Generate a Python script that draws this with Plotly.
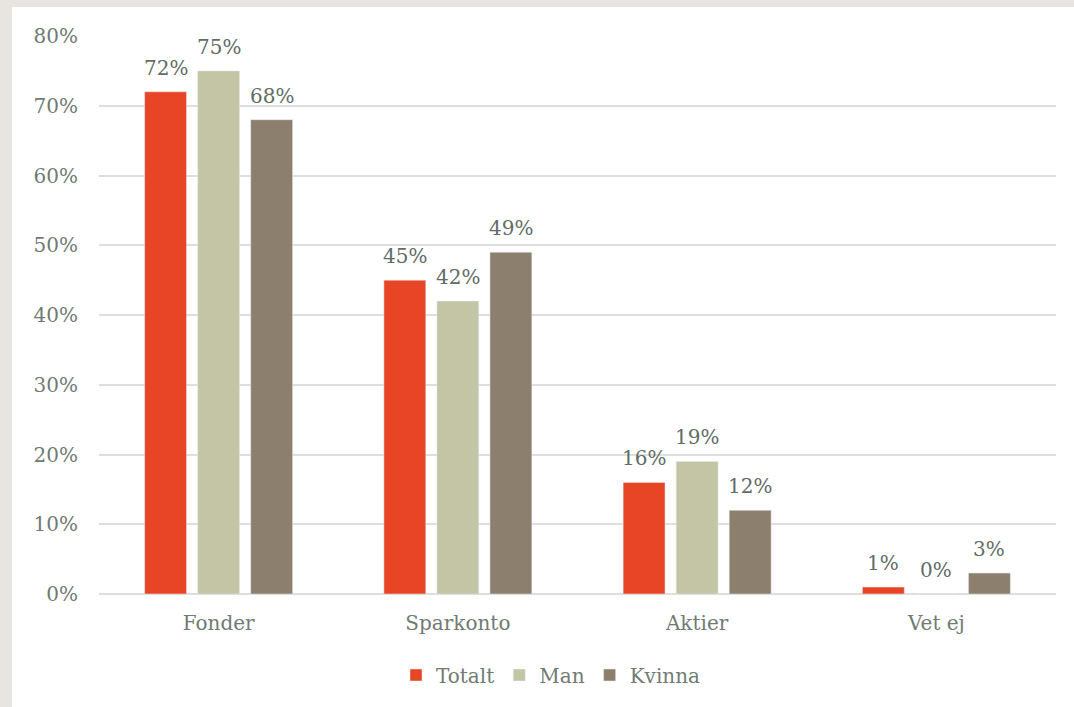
import plotly.graph_objects as go

categories = ["Fonder", "Sparkonto", "Aktier", "Vet ej"]
totalt = [0.72, 0.45, 0.16, 0.01]
man = [0.75, 0.42, 0.19, 0.00]
kvinna = [0.68, 0.49, 0.12, 0.03]
series_names = ["Totalt", "Man", "Kvinna"]
colors = ["#e84527", "#c3c5a5", "#8c7f6e"]
tick_vals = [0, 0.1, 0.2, 0.3, 0.4, 0.5, 0.6, 0.7, 0.8]

FONT = "Georgia, 'DejaVu Serif', 'Liberation Serif', serif"
TXT = "#6f7b73"
LBL = "#626c66"

W, H = 1074, 707
L, R, T, B = 99, 18, 36, 113
pw, ph = W - L - R, H - T - B

fig = go.Figure()
annotations = []
offsets = [-53, 0, 53]
for name, vals, col, off in zip(series_names, [totalt, man, kvinna], colors, offsets):
    fig.add_trace(go.Bar(x=categories, y=vals, name=name, marker_color=col))
    for c, v in zip(categories, vals):
        annotations.append(dict(
            x=c, y=v, xref="x", yref="y", text=f"{round(v*100)}%", showarrow=False,
            xshift=off, yanchor="middle", yshift=24,
            font=dict(family=FONT, size=20, color=LBL),
        ))


def px_x(p):
    return (p - L) / pw


def px_y(p):
    return (H - B - p) / ph


bg = "#e8e5e0"
shapes = [
    dict(type="rect", xref="paper", yref="paper", x0=px_x(-5), x1=px_x(12), y0=px_y(720), y1=px_y(-5),
         fillcolor=bg, line_width=0, layer="below"),
    dict(type="rect", xref="paper", yref="paper", x0=px_x(-5), x1=px_x(1080), y0=px_y(7), y1=px_y(-5),
         fillcolor=bg, line_width=0, layer="below"),
]

fig.update_layout(
    width=W, height=H,
    margin=dict(l=L, r=R, t=T, b=B),
    paper_bgcolor="white", plot_bgcolor="white",
    barmode="group", bargap=0.335, bargroupgap=0.21,
    font=dict(family=FONT, size=20, color=TXT),
    shapes=shapes,
    annotations=annotations,
    showlegend=True,
    legend=dict(orientation="h", x=px_x(551), xanchor="center", y=px_y(675), yanchor="middle",
                font=dict(family=FONT, size=20, color=TXT), itemwidth=30, traceorder="normal"),
    xaxis=dict(showgrid=False, showline=False, ticks="", ticklabelstandoff=15,
               tickfont=dict(family=FONT, size=20, color=TXT)),
    yaxis=dict(range=[0, 0.8], tickvals=tick_vals, tickformat=".0%", showgrid=True,
               gridcolor="#dedede", gridwidth=2, zeroline=True, zerolinecolor="#dedede", zerolinewidth=2,
               showline=False, ticks="", ticklabelstandoff=20,
               tickfont=dict(family=FONT, size=20, color=TXT)),
)

fig.write_html(
    "out.html",
    config={"displayModeBar": False},
    post_script="document.body.style.margin='0';document.body.style.overflow='hidden';",
)
